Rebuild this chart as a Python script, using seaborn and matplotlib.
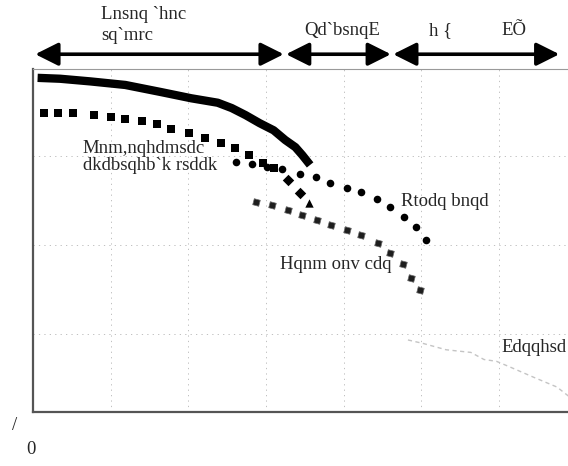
import numpy as np
import pandas as pd
import matplotlib
matplotlib.use("Agg")
import matplotlib.pyplot as plt
import seaborn as sns

# ------------------------------------------------------------------
# data (x: grid units, y: grid units)
# ------------------------------------------------------------------
motor_x = [0.06, 0.35, 0.74, 1.19, 1.65, 2.04, 2.38, 2.56, 2.74, 2.92, 3.10, 3.25, 3.38, 3.47, 3.57]
motor_y = [3.88, 3.87, 3.84, 3.80, 3.72, 3.65, 3.60, 3.54, 3.46, 3.37, 3.29, 3.18, 3.10, 3.01, 2.90]

nonor_x = [0.14, 0.32, 0.51, 0.78, 1.01, 1.19, 1.40, 1.60, 1.78, 2.01, 2.22, 2.42, 2.60, 2.78, 2.96, 3.10]
nonor_y = [3.49, 3.48, 3.48, 3.46, 3.44, 3.42, 3.39, 3.36, 3.31, 3.26, 3.20, 3.15, 3.09, 3.01, 2.92, 2.87]
nonor_tail_x = [3.29, 3.44]
nonor_tail_y = [2.73, 2.58]
nonor_end_x = [3.56]
nonor_end_y = [2.47]

super_x = [2.62, 2.82, 3.01, 3.21, 3.44, 3.65, 3.83, 4.04, 4.23, 4.43, 4.60, 4.78, 4.94, 5.06]
super_y = [2.93, 2.91, 2.88, 2.85, 2.80, 2.76, 2.70, 2.64, 2.60, 2.52, 2.43, 2.31, 2.20, 2.06]

iron_x = [2.87, 3.08, 3.29, 3.47, 3.66, 3.84, 4.04, 4.23, 4.44, 4.60, 4.77, 4.87, 4.99]
iron_y = [2.48, 2.45, 2.39, 2.34, 2.28, 2.22, 2.17, 2.11, 2.02, 1.91, 1.78, 1.63, 1.49]

ferr_x = [4.83, 5.03, 5.32, 5.64, 5.81, 5.97, 6.16, 6.45, 6.75, 6.91]
ferr_y = [0.93, 0.89, 0.82, 0.79, 0.71, 0.69, 0.62, 0.51, 0.40, 0.29]

# regions along the top (x ranges) and their labels
regions = [(0.03, 3.23), (3.26, 4.61), (4.64, 6.78)]
region_labels = ["Lnsnq `hnc", "sq`mrc", "Qd`bsnqE", "h {", "EÕ"]

curve_labels = ["Mnm,nqhdmsdc\ndkdbsqhb`k rsddk", "Rtodq bnqd", "Hqnm onv cdq", "Edqqhsd"]

# ------------------------------------------------------------------
sns.set_theme(style="white")
plt.rcParams["font.family"] = ["Liberation Serif", "DejaVu Serif"]

fig = plt.figure(figsize=(5.68, 4.66), dpi=100)
ax = fig.add_axes([0.058, 0.116, 0.95, 0.736])

# faint broken grid
for gx in range(1, 7):
    ax.axvline(gx, color="#b5b5b5", lw=0.6, ls=(0, (1.5, 5)), zorder=0)
for gy in range(1, 4):
    ax.axhline(gy, color="#b5b5b5", lw=0.6, ls=(0, (1.5, 5)), zorder=0)

sns.lineplot(x=motor_x, y=motor_y, ax=ax, color="black", lw=6, sort=False,
             solid_capstyle="butt")
sns.scatterplot(x=nonor_x, y=nonor_y, ax=ax, marker="s", s=28, color="black",
                edgecolor="black", linewidth=0)
sns.scatterplot(x=nonor_tail_x, y=nonor_tail_y, ax=ax, marker="D", s=34,
                color="black", linewidth=0)
sns.scatterplot(x=nonor_end_x, y=nonor_end_y, ax=ax, marker="^", s=36,
                color="black", linewidth=0)
sns.scatterplot(x=super_x, y=super_y, ax=ax, marker="o", s=30, color="black",
                linewidth=0)
sns.scatterplot(x=iron_x, y=iron_y, ax=ax, marker=(4, 0, 30), s=40,
                color="#1e1e1e", edgecolor="#6a6a6a", linewidth=0.5)
sns.lineplot(x=ferr_x, y=ferr_y, ax=ax, color="#c4c4c4", lw=1.0,
             ls=(0, (3, 2.5)), sort=False)

ax.set_xlim(0, 6.95)
ax.set_ylim(0.12, 3.98)
ax.set_xticks([])
ax.set_yticks([])
ax.set_xlabel("")
ax.set_ylabel("")
for side in ["left", "bottom"]:
    ax.spines[side].set_color("#555555")
    ax.spines[side].set_linewidth(1.6)
ax.spines["top"].set_color("#9a9a9a")
ax.spines["top"].set_linewidth(0.8)
ax.spines["right"].set_visible(False)

# curve labels
fs = 13.5
ax.text(0.64, 2.99, curve_labels[0], fontsize=fs, va="center", ha="left",
        linespacing=0.95)
ax.text(4.74, 2.49, curve_labels[1], fontsize=fs, va="center", ha="left")
ax.text(3.18, 1.78, curve_labels[2], fontsize=fs, va="center", ha="left")
ax.text(6.04, 0.84, curve_labels[3], fontsize=fs, va="center", ha="left")

# region arrows above the plot
trans = ax.get_xaxis_transform()
for (x0, x1) in regions:
    ax.annotate("", xy=(x0, 1.043), xytext=(x1, 1.043), xycoords=trans,
                textcoords=trans, annotation_clip=False,
                arrowprops=dict(arrowstyle="<|-|>,head_length=1.0,head_width=0.5",
                                color="black", lw=2.6, shrinkA=0, shrinkB=0,
                                mutation_scale=14))

ax.text(0.88, 1.158, region_labels[0], transform=trans, fontsize=fs, ha="left",
        va="center", clip_on=False)
ax.text(0.88, 1.097, region_labels[1], transform=trans, fontsize=fs, ha="left",
        va="center", clip_on=False)
ax.text(3.50, 1.112, region_labels[2], transform=trans, fontsize=fs, ha="left",
        va="center", clip_on=False)
ax.text(5.10, 1.112, region_labels[3], transform=trans, fontsize=fs, ha="left",
        va="center", clip_on=False)
ax.text(6.03, 1.112, region_labels[4], transform=trans, fontsize=fs, ha="left",
        va="center", clip_on=False)

# stray axis marks
fig.text(12 / 568, 1 - 425 / 466, "/", fontsize=fs, ha="left", va="center")
fig.text(26 / 568, 1 - 450 / 466, "0", fontsize=fs, ha="left", va="center")

fig.savefig("out.png", dpi=100)
